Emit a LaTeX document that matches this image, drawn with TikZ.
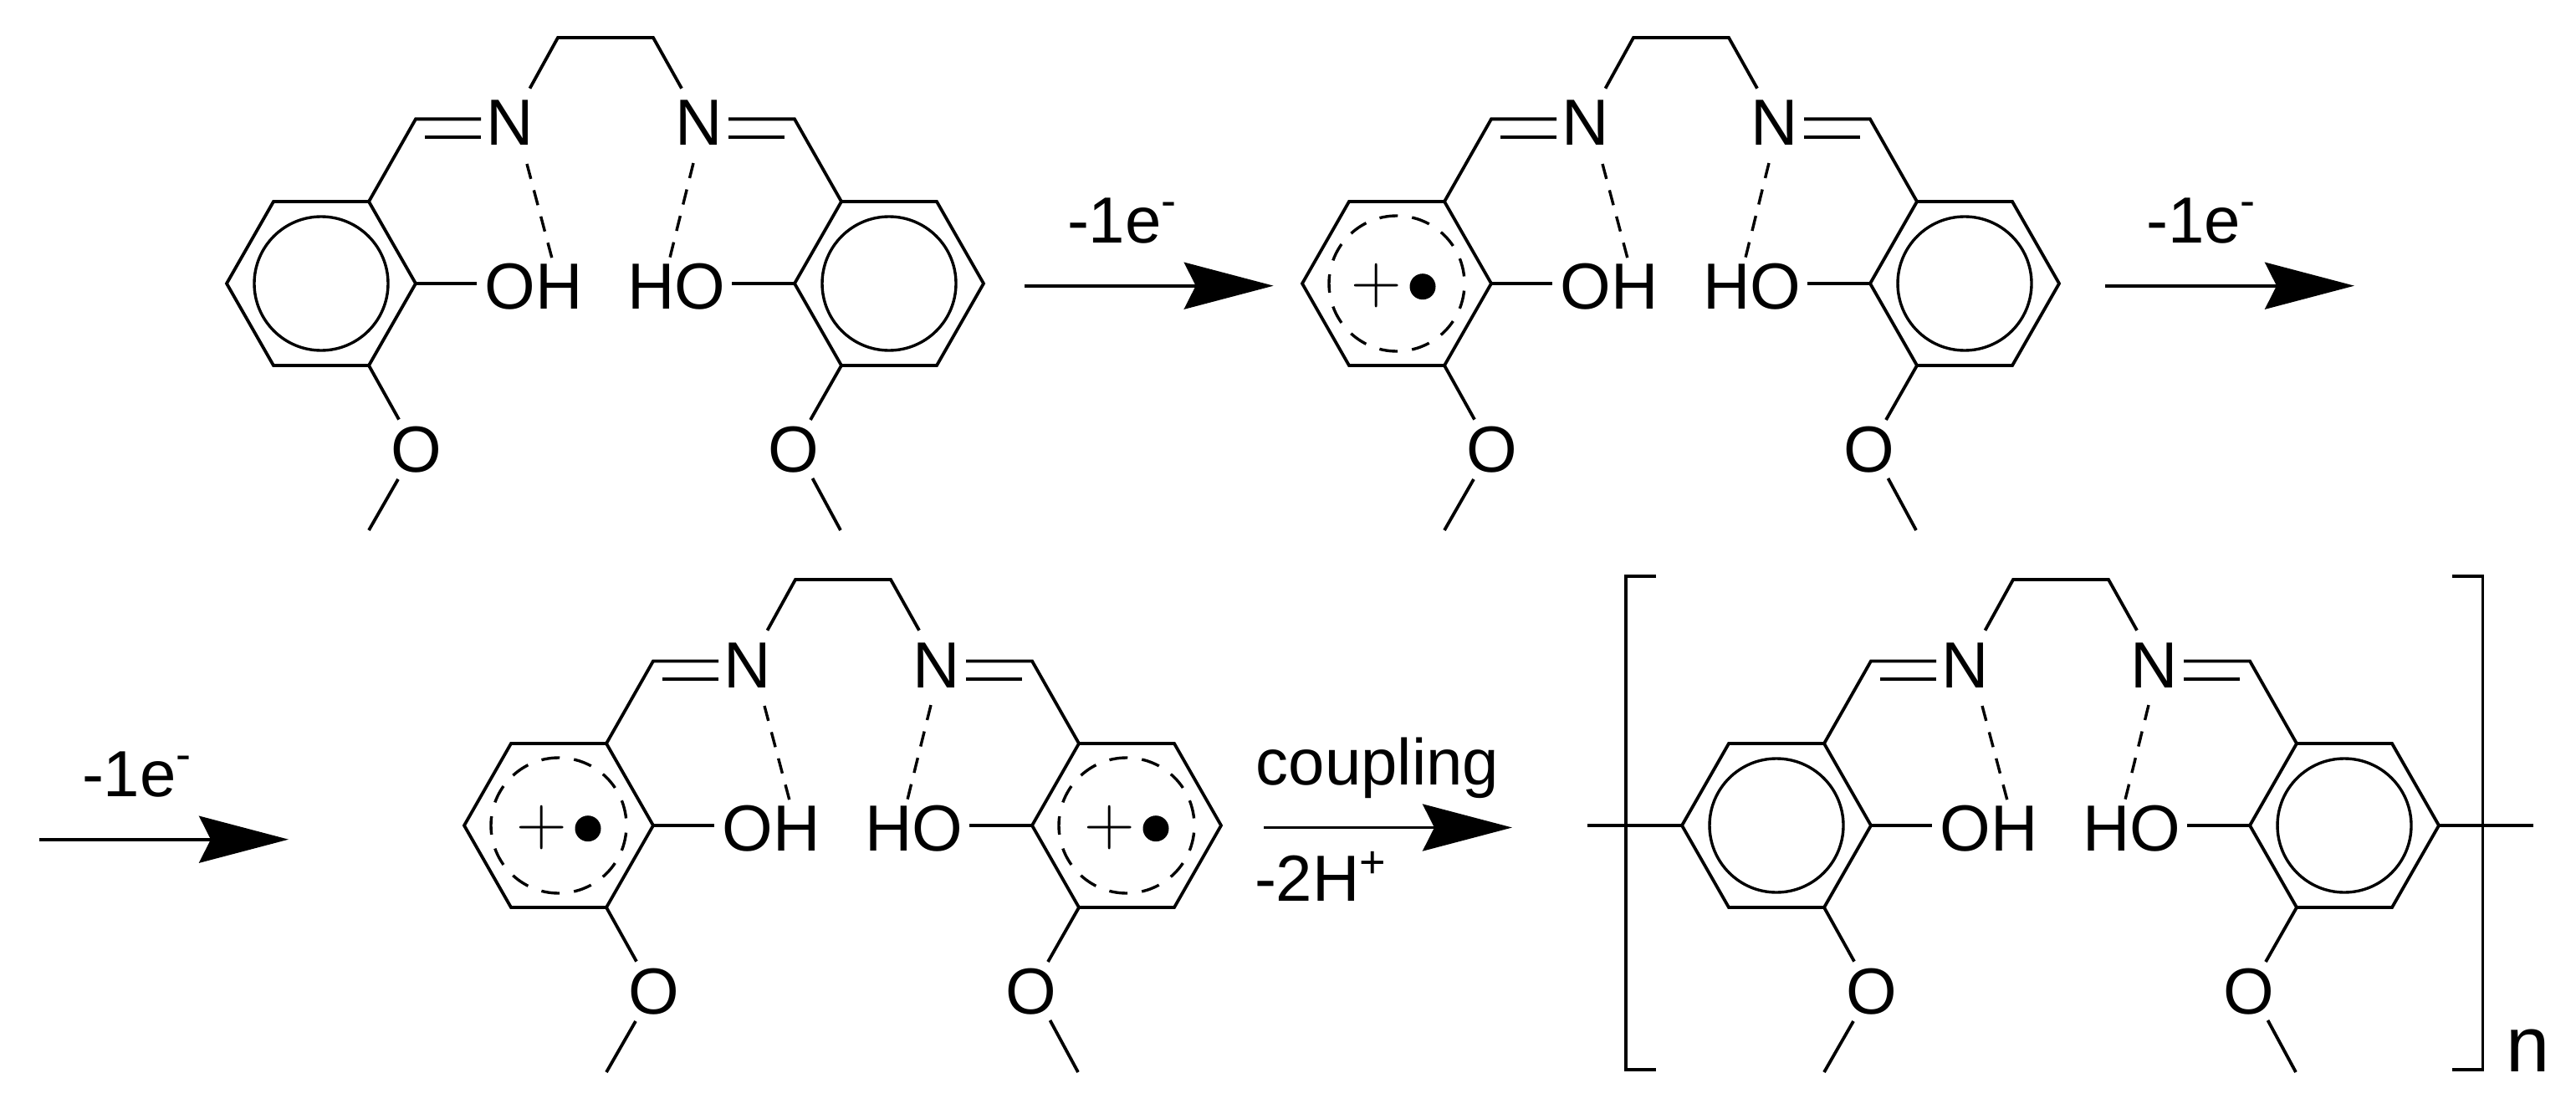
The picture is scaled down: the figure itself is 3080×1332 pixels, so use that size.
\documentclass[tikz,border=0pt]{standalone}
\usepackage{fontspec}
\usetikzlibrary{arrows.meta}
\newfontfamily\arialf{Liberation Sans}
\newcommand\txtfont{\arialf\fontsize{78}{90}\selectfont}
\newcommand\supm{\raisebox{32pt}{\fontsize{54}{60}\selectfont -}}
\newcommand\supp{\raisebox{28pt}{\fontsize{54}{60}\selectfont +}}
\newcommand\decdx{0}
\tikzset{
  bond/.style={line width=3.8pt,line join=miter,line cap=butt,black},
  hbond/.style={line width=3.4pt,dash pattern=on 18.5pt off 14pt,black},
  arom/.style={line width=3.4pt,black},
  radring/.style={line width=3.4pt,dash pattern=on 22pt off 17.15pt,dash phase=30.6pt,black},
  atom/.style={inner sep=0pt,outer sep=0pt,anchor=base,font=\txtfont,text=black},
  rplus/.style={inner sep=0pt,outer sep=0pt,anchor=base,font=\rmfamily\fontsize{84}{90}\selectfont,text=black},
  rdot/.style={circle,fill=black,draw=none,inner sep=0pt,minimum size=31pt},
  labelt/.style={inner sep=0pt,outer sep=0pt,anchor=base west,font=\txtfont,text=black},
  react/.style={line width=3.6pt,-{Stealth[length=107pt,width=56pt,inset=14pt]},black},
}
% ring: prefix, cx, cy, decoration (0 plain, 1 radical cation)
\newcommand\Ring[4]{%
  \coordinate (#1c) at (#2,#3);
  \coordinate (#1l) at (#2-113,#3);
  \coordinate (#1tl) at (#2-57,#3-98);
  \coordinate (#1tr) at (#2+57,#3-98);
  \coordinate (#1r) at (#2+113,#3);
  \coordinate (#1br) at (#2+57,#3+98);
  \coordinate (#1bl) at (#2-57,#3+98);
  \draw[bond] (#1l) -- (#1tl) -- (#1tr) -- (#1r) -- (#1br) -- (#1bl) -- cycle;
  \ifnum#4=0
    \draw[arom] (#1c) circle[radius=80pt];
  \else
    \draw[radring] (#1c) circle[radius=81pt];
    \node[rplus] (#1plus) at (#2-24.5+\decdx,#3+23) {+};
    \node[rdot] (#1dot) at (#2+31+\decdx,#3+3.7) {};
  \fi
}
% molecule: prefix, dx, dy, left decoration, right decoration
\newcommand\Mol[5]{%
\begin{scope}[shift={(#2,#3)}]
  \Ring{#1L}{384}{339}{#4}
  \Ring{#1R}{1063}{339}{#5}
  \node[atom] (#1N1) at (610,174) {N};
  \node[atom] (#1N2) at (836,174) {N};
  \node[atom] (#1OH) at (638,369) {OH};
  \node[atom] (#1HO) at (809,369) {HO};
  \node[atom] (#1O1) at (498,564) {O};
  \node[atom] (#1O2) at (949,564) {O};
  % chain
  \coordinate (#1a1) at (633.5,105.7);
  \coordinate (#1a2) at (667,45);
  \coordinate (#1a3) at (781,45);
  \coordinate (#1a4) at (815,105.7);
  \draw[bond] (#1a1) -- (#1a2) -- (#1a3) -- (#1a4);
  % imines
  \coordinate (#1b1) at (497,142.4);
  \coordinate (#1b2) at (575,142.4);
  \coordinate (#1b3) at (508,164);
  \coordinate (#1b4) at (575,164);
  \draw[bond] (#1Ltr) -- (#1b1) -- (#1b2);
  \draw[bond] (#1b3) -- (#1b4);
  \coordinate (#1d1) at (950,142.4);
  \coordinate (#1d2) at (871,142.4);
  \coordinate (#1d3) at (938,164);
  \coordinate (#1d4) at (871,164);
  \draw[bond] (#1Rtl) -- (#1d1) -- (#1d2);
  \draw[bond] (#1d3) -- (#1d4);
  % hydroxyl bonds
  \coordinate (#1e1) at (570,339);
  \coordinate (#1e2) at (874.6,339);
  \draw[bond] (#1Lr) -- (#1e1);
  \draw[bond] (#1Rl) -- (#1e2);
  % hydrogen bonds
  \coordinate (#1h1) at (630,196);
  \coordinate (#1h2) at (660,309);
  \coordinate (#1h3) at (829,195);
  \coordinate (#1h4) at (801,308);
  \draw[hbond] (#1h1) -- (#1h2);
  \draw[hbond] (#1h3) -- (#1h4);
  % methoxy
  \coordinate (#1m1) at (477,501.6);
  \coordinate (#1m2) at (476,573);
  \coordinate (#1m3) at (441,634);
  \draw[bond] (#1Lbr) -- (#1m1);
  \draw[bond] (#1m2) -- (#1m3);
  \coordinate (#1n1) at (969,502);
  \coordinate (#1n2) at (971.5,572);
  \coordinate (#1n3) at (1005,634);
  \draw[bond] (#1Rbl) -- (#1n1);
  \draw[bond] (#1n2) -- (#1n3);
\end{scope}
}
\begin{document}
\begin{tikzpicture}[x=1pt,y=-1pt]
\fill[white] (0,0) rectangle (3080,1332);
\useasboundingbox (0,0) rectangle (3080,1332);

\Mol{A}{0}{0}{0}{0}
\Mol{B}{1286}{0}{1}{0}
\renewcommand\decdx{4}
\Mol{C}{284}{648}{1}{1}
\renewcommand\decdx{0}
\Mol{D}{1740}{648}{0}{0}

% polymer ends
\coordinate (De1) at (1898,987);
\coordinate (De2) at (3029,987);
\draw[bond] (De1) -- (DLl);
\draw[bond] (DRr) -- (De2);
% brackets
\coordinate (k1) at (1980,688.6);
\coordinate (k2) at (1944,688.6);
\coordinate (k3) at (1944,1279);
\coordinate (k4) at (1980,1279);
\draw[bond] (k1) -- (k2) -- (k3) -- (k4);
\coordinate (j1) at (2932,688.6);
\coordinate (j2) at (2968.5,688.6);
\coordinate (j3) at (2968.5,1279);
\coordinate (j4) at (2932,1279);
\draw[bond] (j1) -- (j2) -- (j3) -- (j4);
\node[inner sep=0pt,anchor=base west,font=\arialf\fontsize{94}{100}\selectfont] (nlabel) at (2996,1281) {n};

% reaction arrows
\coordinate (r1a) at (1225,341.7);
\coordinate (r1b) at (1522.7,341.7);
\draw[react] (r1a) -- (r1b);
\node[labelt] (l1) at (1276,290.7) {-1e\supm};
\coordinate (r2a) at (2517,341.7);
\coordinate (r2b) at (2815,341.7);
\draw[react] (r2a) -- (r2b);
\node[labelt] (l2) at (2566,290.7) {-1e\supm};
\coordinate (r3a) at (47,1003.7);
\coordinate (r3b) at (345,1003.7);
\draw[react] (r3a) -- (r3b);
\node[labelt] (l3) at (98,952.7) {-1e\supm};
\coordinate (r4a) at (1511,989.5);
\coordinate (r4b) at (1808,989.5);
\draw[react] (r4a) -- (r4b);
\node[atom] (l4) at (1647,938.6) {coupling};
\node[labelt] (l5) at (1500,1077) {-2H\supp};
\end{tikzpicture}
\end{document}
